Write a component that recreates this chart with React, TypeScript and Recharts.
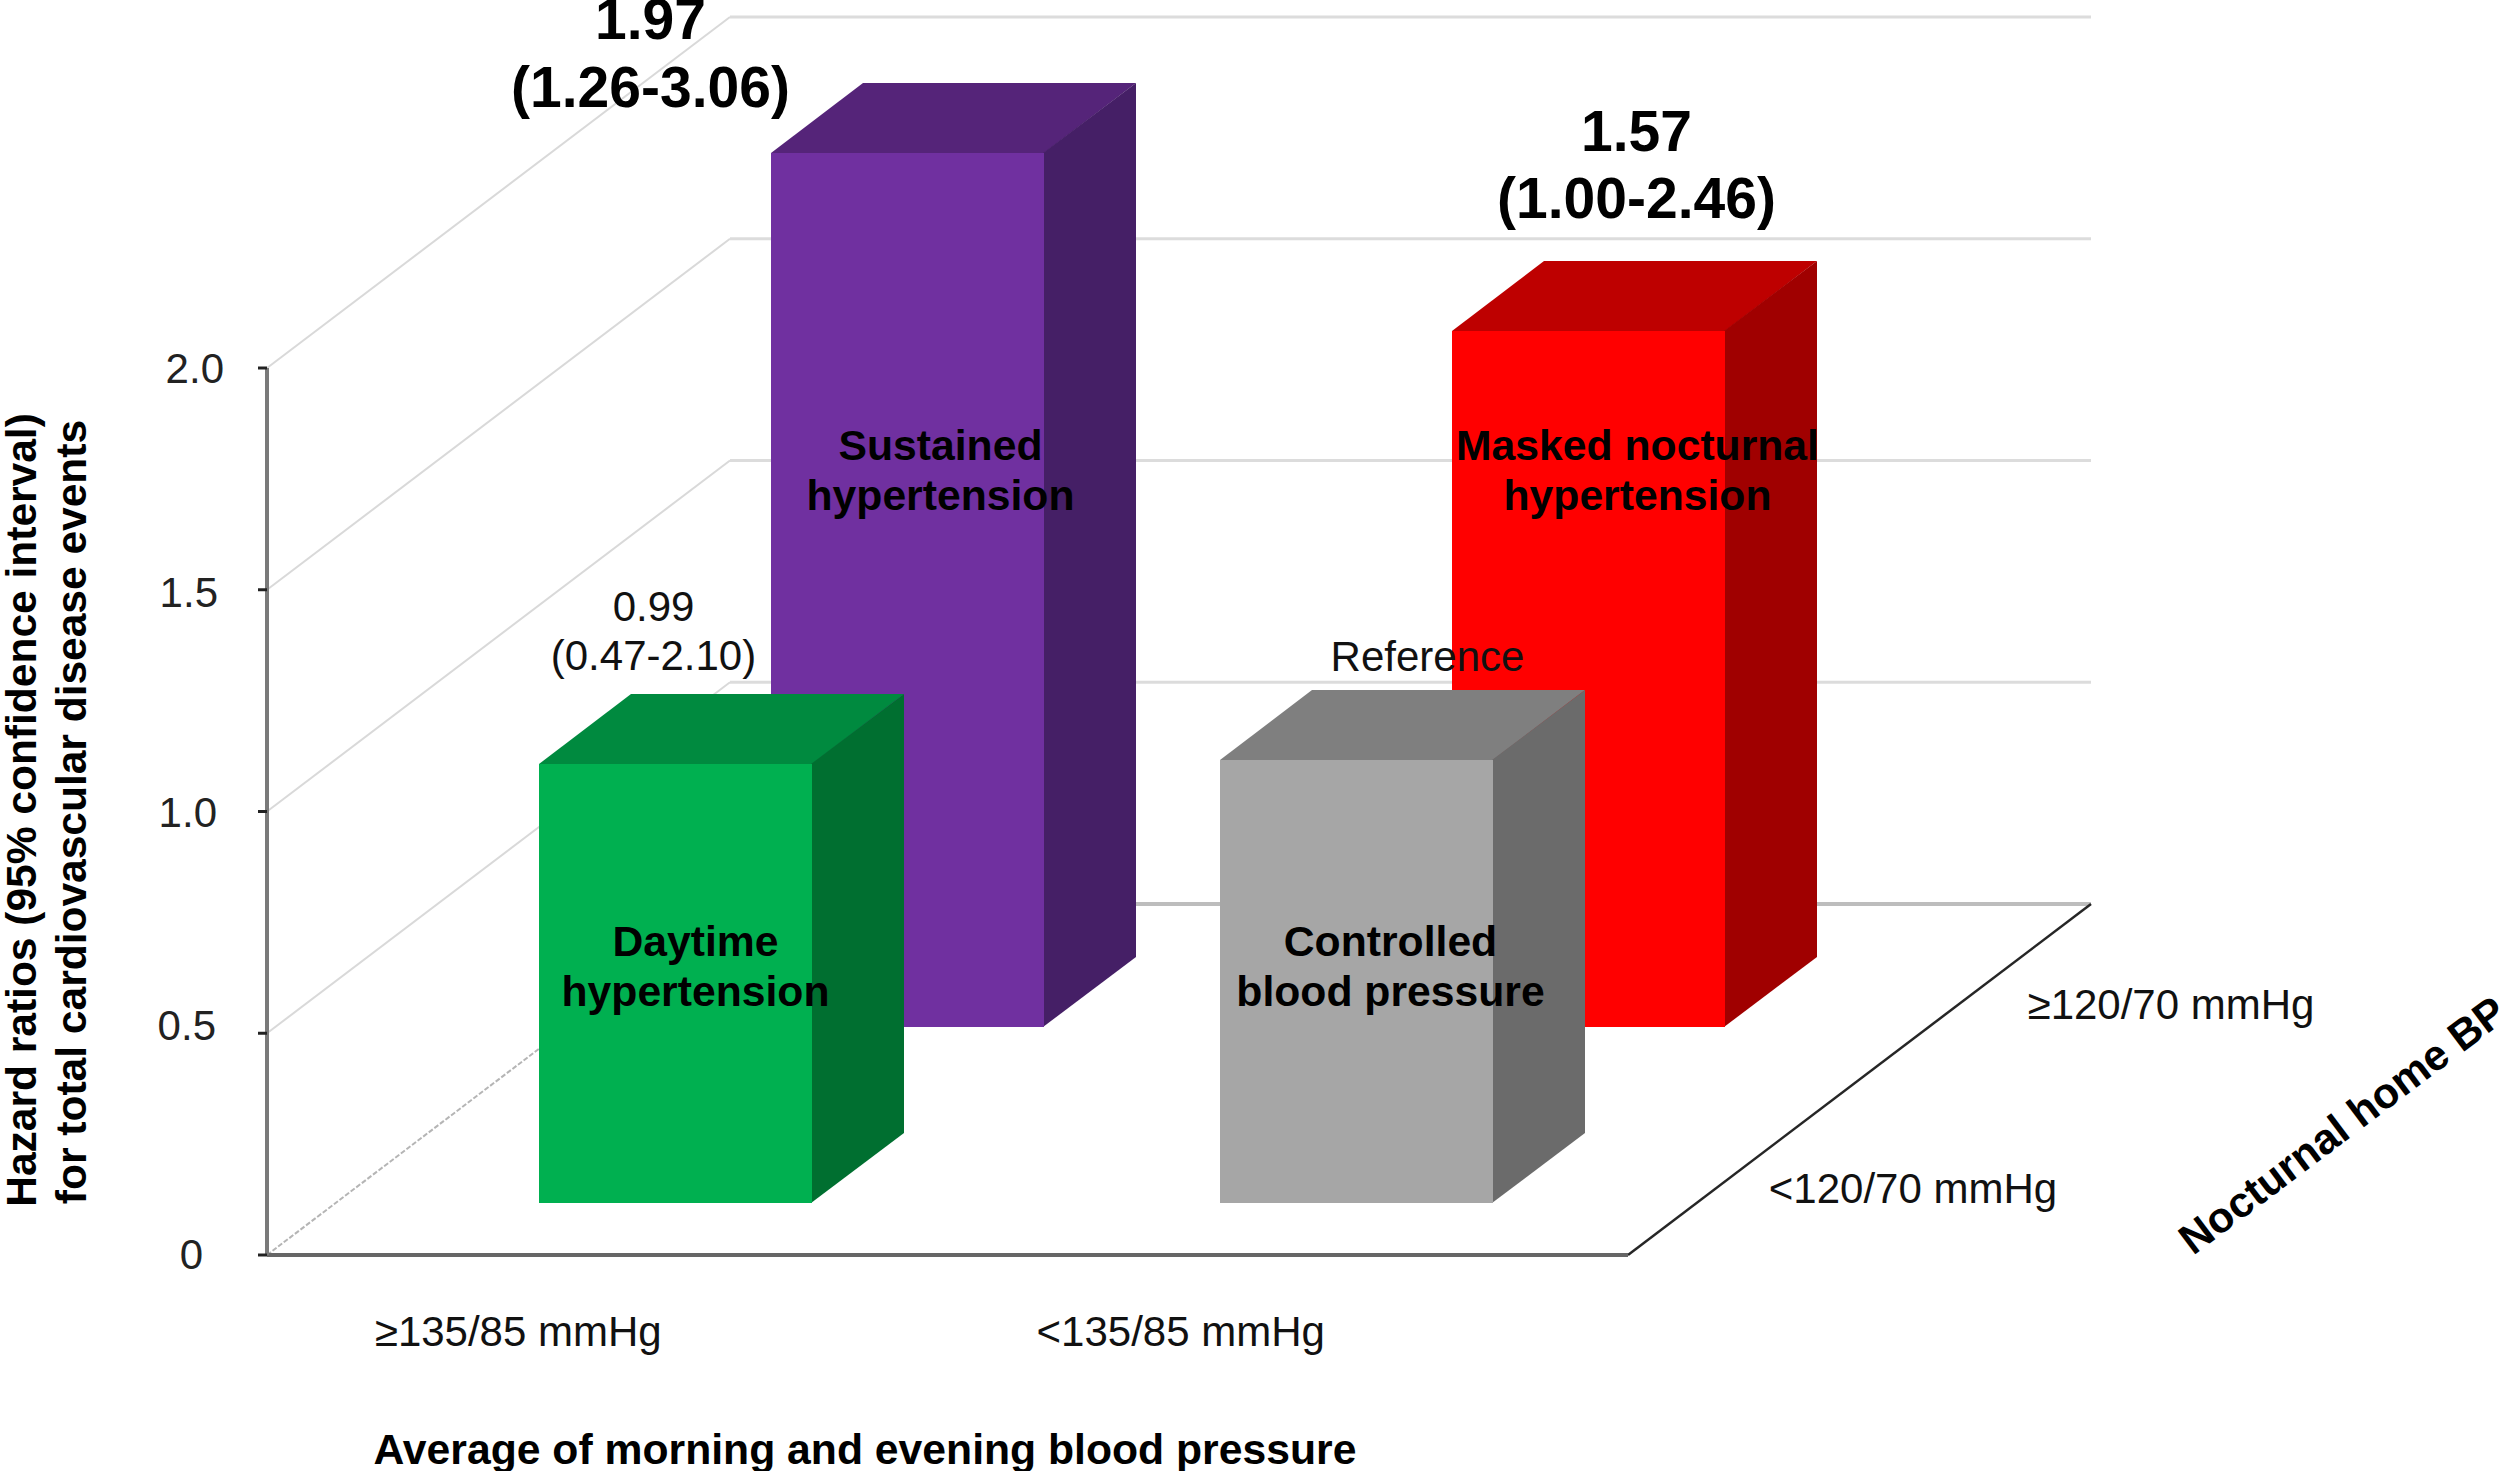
import { Bar, BarChart, CartesianGrid, XAxis, YAxis } from "recharts";

// values
const systolicGroups = ["≥135/85 mmHg", "<135/85 mmHg"];
const frontRowValues = [0.99, 1.0]; // nocturnal <120/70
const backRowValues = [1.97, 1.57]; // nocturnal >=120/70
const frontRowNames = [["Daytime", "hypertension"], ["Controlled", "blood pressure"]];
const backRowNames = [["Sustained", "hypertension"], ["Masked nocturnal", "hypertension"]];
const frontRowNotes = [["0.99", "(0.47-2.10)"], ["Reference"]];
const backRowNotes = [["1.97", "(1.26-3.06)"], ["1.57", "(1.00-2.46)"]];
const yTicks = [0, 0.5, 1, 1.5, 2];

const chartData = systolicGroups.map((group, i) => ({
    group,
    front: frontRowValues[i],
    back: backRowValues[i],
}));

const FONT = "'Liberation Sans', Arial, sans-serif";

// oblique projection of the box
const WALL_DX = 463;
const WALL_DY = 351;
const BAR_DX = 92;
const BAR_DY = 70;

const frontColors = [
    { face: "#00B050", top: "#008A3F", side: "#006F30" },
    { face: "#A6A6A6", top: "#7F7F7F", side: "#6B6B6B" },
];
const backColors = [
    { face: "#7030A0", top: "#552479", side: "#451F66" },
    { face: "#FF0000", top: "#BE0000", side: "#A00000" },
];

function Lines({ x, y, lines, size, weight, gap, color = "#000" }: any) {
    return (
        <>
            {lines.map((line: string, i: number) => (
                <text
                    key={line}
                    x={x}
                    y={y + i * gap}
                    textAnchor="middle"
                    dominantBaseline="central"
                    fontFamily={FONT}
                    fontSize={size}
                    fontWeight={weight}
                    fill={color}
                >
                    {line}
                </text>
            ))}
        </>
    );
}

// Draws one box, moved back along the floor by the row's depth
function makeBox(row: any) {
    return function Box(props: any) {
        const { x, y, width, height, index } = props;
        const c = row.colors[index];
        const left = Math.round(x + row.dx);
        const right = left + Math.round(width);
        const top = Math.round(y - row.dy);
        const base = Math.round(y + height - row.dy);
        const mid = (left + right) / 2;
        const note = row.notes[index];
        const bold = row.boldNotes;
        const gap = bold ? row.noteGap[index] : 49;
        return (
            <g>
                <polygon
                    points={`${left},${top} ${left + BAR_DX},${top - BAR_DY} ${right + BAR_DX},${top - BAR_DY} ${right},${top}`}
                    fill={c.top}
                />
                <polygon
                    points={`${right - 1},${top} ${right + BAR_DX},${top - BAR_DY} ${right + BAR_DX},${base - BAR_DY} ${right - 1},${base}`}
                    fill={c.side}
                />
                <rect x={left} y={top} width={right - left} height={base - top} fill={c.face} />
                <Lines
                    x={mid + row.nameShift[index]}
                    y={base - row.nameLift}
                    lines={row.names[index]}
                    size={42.7}
                    weight="bold"
                    gap={50}
                />
                <Lines
                    x={mid + row.noteShift[index]}
                    y={top - row.noteLift[index] - (note.length - 1) * gap}
                    lines={note}
                    size={bold ? 57 : 42}
                    weight={bold ? "bold" : "normal"}
                    gap={gap}
                    color={bold ? "#000" : "#111"}
                />
            </g>
        );
    };
}

const FrontBox = makeBox({
    dx: 68,
    dy: 52,
    colors: frontColors,
    names: frontRowNames,
    notes: frontRowNotes,
    boldNotes: false,
    nameShift: [20, 34],
    nameLift: 262,
    noteShift: [-22, 71],
    noteLift: [109, 104],
});

const BackBox = makeBox({
    dx: 300,
    dy: 228,
    colors: backColors,
    names: backRowNames,
    notes: backRowNotes,
    boldNotes: true,
    nameShift: [33, 49],
    nameLift: 582,
    noteShift: [-257, 48],
    noteLift: [66, 133],
    noteGap: [68, 67],
});

// Each grid value becomes a line up the side wall and along the back wall
function WallLine(props: any) {
    const { x1, x2, y1, index } = props;
    const atFloor = Math.abs(y1 - 1255) < 1;
    const backY = y1 - WALL_DY;
    return (
        <g key={`wall-${index}`}>
            <line
                x1={x1}
                y1={y1}
                x2={x1 + WALL_DX}
                y2={backY}
                stroke={atFloor ? "#b5b5b5" : "#d9d9d9"}
                strokeWidth={2}
                strokeDasharray={atFloor ? "5 2" : undefined}
            />
            <line
                x1={x1 + WALL_DX}
                y1={backY}
                x2={x2 + WALL_DX}
                y2={backY}
                stroke={atFloor ? "#bdbdbd" : "#dcdcdc"}
                strokeWidth={atFloor ? 4 : 3}
            />
            {atFloor && (
                <line x1={x2} y1={y1} x2={x2 + WALL_DX} y2={backY} stroke="#262626" strokeWidth={2.5} />
            )}
        </g>
    );
}

const xLabelShift = [-89, -107];

function GroupTick({ x, y, payload, index }: any) {
    return (
        <text
            x={x + xLabelShift[index]}
            y={y}
            textAnchor="middle"
            dominantBaseline="central"
            fontFamily={FONT}
            fontSize={42}
            fill="#111"
        >
            {payload.value}
        </text>
    );
}

// the labels do not sit quite evenly against their ticks in the original
const yLabelNudge: Record<number, number[]> = {
    0: [-19, -1],
    0.5: [-6, -8],
    1: [-5, 1],
    1.5: [-4, 3],
    2: [2, 0],
};

function ValueTick({ x, y, payload }: any) {
    const [dx, dy] = yLabelNudge[payload.value] || [0, 0];
    return (
        <text
            x={x + dx}
            y={y + dy}
            textAnchor="end"
            dominantBaseline="central"
            fontFamily={FONT}
            fontSize={42}
            fill="#222"
        >
            {payload.value === 0 ? "0" : payload.value.toFixed(1)}
        </text>
    );
}

export default function App() {
    return (
        <div
            style={{
                position: "absolute",
                left: 0,
                top: 0,
                width: 2500,
                height: 1471,
                overflow: "hidden",
                background: "#fff",
            }}
        >
            <BarChart
                width={2500}
                height={1471}
                data={chartData}
                margin={{ top: 368, right: 872, bottom: 0, left: 147 }}
                barSize={273}
                barGap={-273}
            >
                <CartesianGrid vertical={false} horizontal={WallLine} syncWithTicks />
                <XAxis
                    dataKey="group"
                    height={216}
                    tick={GroupTick}
                    tickLine={false}
                    tickMargin={70}
                    axisLine={{ stroke: "#666", strokeWidth: 4 }}
                />
                <YAxis
                    width={120}
                    domain={[0, 2]}
                    ticks={yTicks}
                    tick={ValueTick}
                    tickSize={9}
                    tickMargin={36}
                    tickLine={{ stroke: "#222", strokeWidth: 3 }}
                    axisLine={{ stroke: "#7a7a7a", strokeWidth: 4 }}
                    interval={0}
                />
                <Bar dataKey="back" isAnimationActive={false} shape={BackBox} />
                <Bar dataKey="front" isAnimationActive={false} shape={FrontBox} />

                <text
                    transform="translate(21 810) rotate(-90)"
                    textAnchor="middle"
                    dominantBaseline="central"
                    fontFamily={FONT}
                    fontSize={42.5}
                    fontWeight="bold"
                >
                    Hazard ratios (95% confidence interval)
                </text>
                <text
                    transform="translate(71 812) rotate(-90)"
                    textAnchor="middle"
                    dominantBaseline="central"
                    fontFamily={FONT}
                    fontSize={42.5}
                    fontWeight="bold"
                >
                    for total cardiovascular disease events
                </text>
                <text
                    x={865}
                    y={1449}
                    textAnchor="middle"
                    dominantBaseline="central"
                    fontFamily={FONT}
                    fontSize={42.7}
                    fontWeight="bold"
                >
                    Average of morning and evening blood pressure
                </text>
                <text x={2171} y={1004} textAnchor="middle" dominantBaseline="central" fontFamily={FONT} fontSize={42} fill="#111">
                    ≥120/70 mmHg
                </text>
                <text x={1913} y={1188} textAnchor="middle" dominantBaseline="central" fontFamily={FONT} fontSize={42} fill="#111">
                    {"<120/70 mmHg"}
                </text>
                <text
                    transform="translate(2193 1256) rotate(-37)"
                    fontFamily={FONT}
                    fontSize={42.7}
                    fontWeight="bold"
                >
                    Nocturnal home BP
                </text>
            </BarChart>
        </div>
    );
}
